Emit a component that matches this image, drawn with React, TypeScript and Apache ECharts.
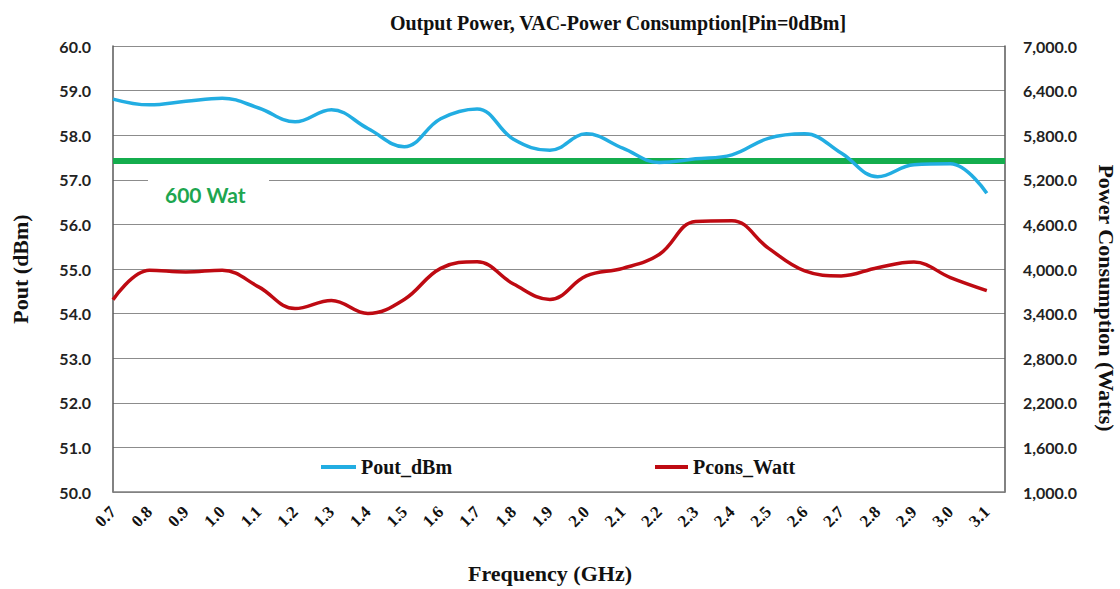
import React, { useEffect, useRef } from "react";
import * as echarts from "echarts";

const freqGHz = [0.7, 0.8, 0.9, 1.0, 1.1, 1.2, 1.3, 1.4, 1.5, 1.6, 1.7, 1.8, 1.9, 2.0, 2.1, 2.2, 2.3, 2.4, 2.5, 2.6, 2.7, 2.8, 2.9, 3.0, 3.1];
const poutDbm = [58.81, 58.68, 58.76, 58.83, 58.61, 58.30, 58.57, 58.15, 57.74, 58.37, 58.59, 57.91, 57.66, 58.03, 57.71, 57.39, 57.47, 57.56, 57.93, 58.03, 57.60, 57.07, 57.34, 57.36, 56.70];
const pconsWatt = [3587, 3983, 3960, 3983, 3760, 3467, 3577, 3401, 3590, 4009, 4097, 3798, 3590, 3907, 4009, 4194, 4640, 4650, 4281, 3974, 3907, 4018, 4093, 3885, 3709];
const thresholdDbm = 57.42;
const thresholdLabel = "600 Wat";

const TITLE = "Output Power, VAC-Power Consumption[Pin=0dBm]";
const SERIF = "'Liberation Serif', 'Times New Roman', serif";
const SANS = "Lato, 'Open Sans', sans-serif";

export default function App() {
  const ref = useRef<HTMLDivElement>(null);
  useEffect(() => {
    if (!ref.current) return;
    const chart = echarts.init(ref.current, undefined, { renderer: "svg" });
    const poutData = freqGHz.map((f, i) => [f, poutDbm[i]]);
    const pconsData = freqGHz.map((f, i) => [f, pconsWatt[i]]);
    chart.setOption({
      animation: false,
      backgroundColor: "#ffffff",
      title: {
        text: TITLE,
        left: 613,
        textAlign: "center",
        top: 8,
        textStyle: { fontFamily: SERIF, fontWeight: "bold", fontSize: 20, color: "#111" },
      },
      grid: { left: 113, right: 115, top: 46, bottom: 89, containLabel: false },
      legend: [
        {
          data: ["Pout_dBm"],
          left: 316,
          top: 452,
          icon: "rect",
          itemWidth: 35,
          itemHeight: 4,
          textStyle: { fontFamily: SERIF, fontWeight: "bold", fontSize: 20, color: "#111" },
        },
        {
          data: ["Pcons_Watt"],
          left: 650,
          top: 452,
          icon: "rect",
          itemWidth: 33,
          itemHeight: 4,
          textStyle: { fontFamily: SERIF, fontWeight: "bold", fontSize: 20, color: "#111" },
        },
      ],
      xAxis: {
        type: "value",
        min: 0.7,
        max: 3.15,
        interval: 0.1,
        name: "Frequency (GHz)",
        nameLocation: "middle",
        nameGap: 70,
        nameTextStyle: { fontFamily: SERIF, fontWeight: "bold", fontSize: 22, color: "#111", padding: [0, 18, 0, 0] },
        axisLine: { onZero: false, lineStyle: { color: "#7f7f7f", width: 1.5 } },
        axisTick: { show: false },
        splitLine: { show: false },
        axisLabel: {
          rotate: 45,
          margin: 17,
          showMaxLabel: false,
          fontFamily: SERIF,
          fontWeight: "bold",
          fontSize: 17,
          color: "#111",
          formatter: (v: number) => (v > 3.12 ? "" : v.toFixed(1)),
        },
      },
      yAxis: [
        {
          type: "value",
          min: 50,
          max: 60,
          interval: 1,
          position: "left",
          name: "Pout (dBm)",
          nameLocation: "middle",
          nameGap: 82,
          nameTextStyle: { fontFamily: SERIF, fontWeight: "bold", fontSize: 22, color: "#111" },
          axisLine: { show: true, lineStyle: { color: "#595959", width: 1.5 } },
          axisTick: { show: false },
          splitLine: { show: true, lineStyle: { color: "#8c8c8c", width: 1.2 } },
          axisLabel: {
            margin: 22,
            fontFamily: SANS,
            fontWeight: "bold",
            fontSize: 16,
            color: "#222",
            formatter: (v: number) => v.toFixed(1),
          },
        },
        {
          type: "value",
          min: 1000,
          max: 7000,
          alignTicks: true,
          position: "right",
          axisLine: { show: true, lineStyle: { color: "#595959", width: 1.5 } },
          axisTick: { show: false },
          splitLine: { show: false },
          axisLabel: {
            margin: 18,
            fontFamily: SANS,
            fontWeight: "bold",
            fontSize: 16,
            color: "#222",
            formatter: (v: number) =>
              v.toLocaleString("en-US", { minimumFractionDigits: 1, maximumFractionDigits: 1 }),
          },
        },
      ],
      graphic: [
        {
          type: "rect",
          shape: { x: 148, y: 172, width: 121, height: 40 },
          style: { fill: "#ffffff" },
          z: 50,
        },
        {
          type: "text",
          x: 165,
          y: 194,
          z: 51,
          style: {
            text: thresholdLabel,
            fontFamily: SANS,
            fontWeight: "bold",
            fontSize: 21,
            fill: "#1da64f",
            verticalAlign: "middle",
          },
        },
        {
          type: "text",
          x: 1106,
          y: 298,
          rotation: -Math.PI / 2,
          style: {
            text: "Power Consumption (Watts)",
            fontFamily: SERIF,
            fontWeight: "bold",
            fontSize: 22,
            fill: "#111",
            align: "center",
            verticalAlign: "middle",
          },
        },
      ],
      series: [
        {
          name: "Pout_dBm",
          type: "line",
          yAxisIndex: 0,
          data: poutData,
          smooth: 0.4,
          showSymbol: false,
          symbol: "none",
          lineStyle: { color: "#22ade2", width: 3.5 },
          itemStyle: { color: "#22ade2" },
          z: 3,
          markLine: {
            silent: true,
            symbol: ["none", "none"],
            label: { show: false },
            lineStyle: { color: "#14ad4d", width: 6, type: "solid" },
            data: [{ yAxis: thresholdDbm }],
            z: 2,
          },
        },
        {
          name: "Pcons_Watt",
          type: "line",
          yAxisIndex: 1,
          data: pconsData,
          smooth: 0.4,
          showSymbol: false,
          symbol: "none",
          lineStyle: { color: "#be0a12", width: 3.5 },
          itemStyle: { color: "#be0a12" },
          z: 3,
        },
      ],
    });
    return () => chart.dispose();
  }, []);
  return <div ref={ref} style={{ width: 1120, height: 589, position: "absolute", left: 0, top: 0 }} />;
}
